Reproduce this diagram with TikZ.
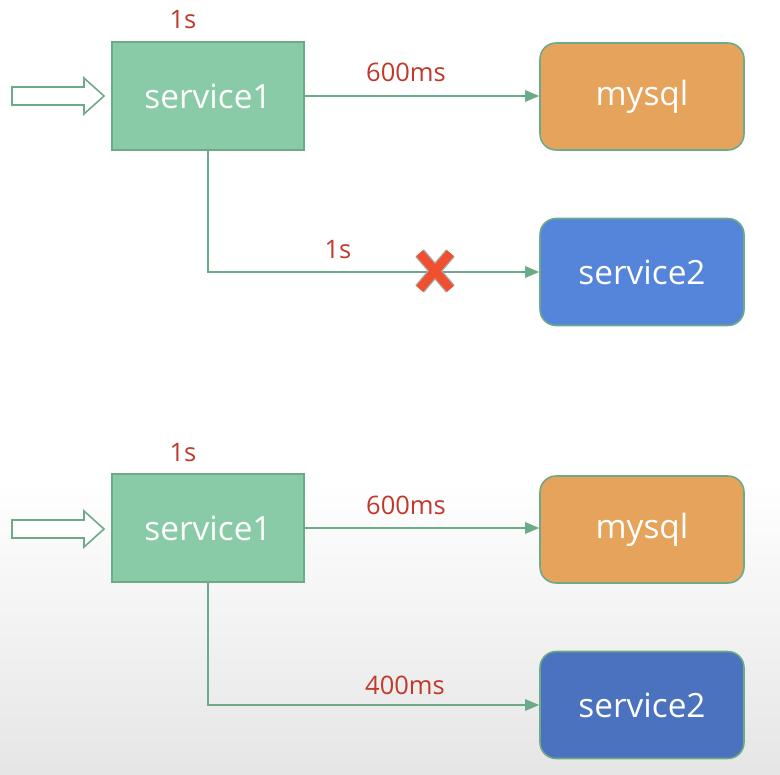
\documentclass[tikz,border=0pt]{standalone}
\usepackage{fontspec}
\setmainfont{Open Sans}
\usetikzlibrary{arrows.meta}

\definecolor{boxgreen}{HTML}{8ACBA7}
\definecolor{edgegreen}{HTML}{6CAA88}
\definecolor{dbora}{HTML}{E5A35B}
\definecolor{svcblue}{HTML}{5585DA}
\definecolor{svcdark}{HTML}{4A72BE}
\definecolor{labred}{HTML}{C0392B}
\definecolor{xred}{HTML}{F0502F}

\tikzset{
  svc/.style={draw=edgegreen, line width=0.9pt, minimum width=3.84cm, minimum height=2.16cm,
    text=white, font=\fontsize{19}{21}\selectfont, inner sep=0pt},
  store/.style={svc, rounded corners=0.32cm, minimum width=4.08cm, minimum height=2.14cm},
  call/.style={draw=edgegreen, line width=0.9pt, -{Triangle[length=8pt, width=6.5pt]}},
  lab/.style={text=labred, font=\fontsize{14.5}{16}\selectfont, inner sep=0pt},
  feed/.style={draw=edgegreen, line width=0.9pt, fill=white, line join=miter},
  xmark/.style={minimum width=0.6cm, minimum height=0.7cm, inner sep=0pt},
}

\begin{document}
\begin{tikzpicture}[x=0.02cm, y=-0.02cm]
  % background
  \useasboundingbox (0,0) rectangle (780,774);
  \fill[white] (0,0) rectangle (780,774);
  \shade[top color=white, bottom color=black!10] (0,480) rectangle (780,774);

  % upper case: service2 times out
  \coordinate (in1) at (12,96);
  \draw[feed] (in1) ++(0,-9) -- ++(72,0) -- ++(0,-9) -- ++(20,18) -- ++(-20,18)
    -- ++(0,-9) -- ++(-72,0) -- cycle;
  \node[svc, fill=boxgreen] (s1a) at (208,96) {service1};
  \node[store, fill=dbora] (dba) at (642,96.5) {mysql};
  \node[store, fill=svcblue] (s2a) at (642,272) {service2};
  \node[lab] (t1a) at (183,20) {1s};

  \draw[call] (s1a.east) -- (s1a.east -| dba.west);
  \draw[call] (s1a.south) |- (s2a.west);
  \node[lab] (t2a) at (406,72) {600ms};
  \node[lab] (t3a) at (338,250) {1s};

  \node[xmark] (cut) at (435,271) {};
  \draw[gray!70, line width=6.5pt] (cut.north west) -- (cut.south east)
    (cut.north east) -- (cut.south west);
  \draw[xred, line width=5pt] (cut.north west) -- (cut.south east)
    (cut.north east) -- (cut.south west);

  % lower case: budget split
  \coordinate (in2) at (12,529);
  \draw[feed] (in2) ++(0,-9) -- ++(72,0) -- ++(0,-9) -- ++(20,18) -- ++(-20,18)
    -- ++(0,-9) -- ++(-72,0) -- cycle;
  \node[svc, fill=boxgreen] (s1b) at (208,528) {service1};
  \node[store, fill=dbora] (dbb) at (642,529.5) {mysql};
  \node[store, fill=svcdark] (s2b) at (642,705) {service2};
  \node[lab] (t1b) at (183,453) {1s};

  \draw[call] (s1b.east) -- (s1b.east -| dbb.west);
  \draw[call] (s1b.south) |- (s2b.west);
  \node[lab] (t2b) at (406,505) {600ms};
  \node[lab] (t3b) at (405,685) {400ms};
\end{tikzpicture}
\end{document}
